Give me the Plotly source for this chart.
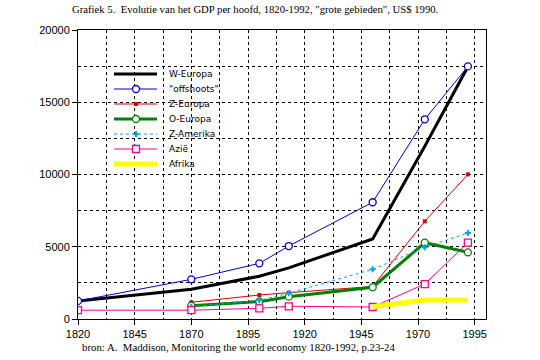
import plotly.graph_objects as go

years = [1820, 1870, 1900, 1913, 1950, 1973, 1992]
w_europa = [1250, 2060, 2960, 3540, 5540, 11950, 17460]
offshoots = [1250, 2745, 3850, 5050, 8080, 13820, 17480]
z_europa_years = [1870, 1900, 1913, 1950, 1973, 1992]
z_europa = [1155, 1660, 1820, 2250, 6760, 10010]
o_europa_years = [1870, 1900, 1913, 1950, 1973, 1992]
o_europa = [920, 1200, 1545, 2200, 5280, 4615]
z_amerika_years = [1870, 1900, 1913, 1950, 1973, 1992]
z_amerika = [850, 1290, 1780, 3440, 4960, 5950]
azie = [610, 610, 740, 880, 830, 2420, 5280]
afrika_years = [1950, 1973, 1992]
afrika = [850, 1315, 1315]

x_ticks = [1820, 1845, 1870, 1895, 1920, 1945, 1970, 1995]
y_ticks = [0, 5000, 10000, 15000, 20000]

# series styles: name, line color, width, dash, marker symbol, marker size, hollow
styles = [
    ("W-Europa", "black", 3, "solid", None, 0, False),
    ('"offshoots"', "#0000cc", 1, "solid", "circle", 7, True),
    ("Z-Europa", "#dd0000", 1, "solid", "square", 4, False),
    ("O-Europa", "#008000", 3, "solid", "circle", 7, True),
    ("Z-Amerika", "#00a0ee", 1, "dot", "cross", 5, False),
    ("Azië", "#ff0088", 1, "solid", "square", 7, True),
    ("Afrika", "#ffff00", 5, "solid", None, 0, False),
]
series = [
    (years, w_europa),
    (years, offshoots),
    (z_europa_years, z_europa),
    (o_europa_years, o_europa),
    (z_amerika_years, z_amerika),
    (years, azie),
    (afrika_years, afrika),
]

def marker_of(color, sym, size, hollow):
    if hollow:
        return dict(symbol=sym, size=size, color="white", line=dict(width=1.3, color=color))
    return dict(symbol=sym, size=size, color=color, line=dict(width=0))

fig = go.Figure()
for (name, color, width, dash, sym, size, hollow), (xs, ys) in zip(styles, series):
    kw = dict(mode="lines")
    if sym:
        kw = dict(mode="lines+markers", marker=marker_of(color, sym, size, hollow))
    fig.add_trace(go.Scatter(x=xs, y=ys, name=name, showlegend=False,
                             line=dict(color=color, width=width, dash=dash), **kw))

# legend drawn on an overlay axis measured in pixels
L, R, T, B = 78, 486, 30, 319
leg_y0, leg_dy = 74, 15
leg_x = [114, 157]
leg_mx = 136
annotations = []
for i, (name, color, width, dash, sym, size, hollow) in enumerate(styles):
    y = leg_y0 + i * leg_dy
    fig.add_trace(go.Scatter(x=leg_x, y=[y, y], xaxis="x2", yaxis="y2", showlegend=False,
                             mode="lines", hoverinfo="skip",
                             line=dict(color=color, width=width, dash=dash)))
    if sym:
        fig.add_trace(go.Scatter(x=[leg_mx], y=[y], xaxis="x2", yaxis="y2", showlegend=False,
                                 mode="markers", hoverinfo="skip",
                                 marker=marker_of(color, sym, size, hollow)))
    annotations.append(dict(text=name, x=167, y=y, xref="x2", yref="y2", xanchor="left",
                            yanchor="middle", showarrow=False,
                            font=dict(family="DejaVu Sans", size=9, color="black")))

axis_common = dict(showline=True, linecolor="black", linewidth=1, mirror=True,
                   showgrid=True, gridcolor="black", griddash="dot", gridwidth=1,
                   ticks="outside", ticklen=5, tickcolor="black", zeroline=False,
                   tickfont=dict(family="Liberation Sans, Arial", size=11, color="black"))

fig.update_layout(
    xaxis=dict(range=[1820, 2000], tickvals=x_ticks, tickformat="d",
               minor=dict(dtick=12.5, tick0=1820, showgrid=True, gridcolor="black",
                          griddash="dot", gridwidth=1, ticks=""),
               **axis_common),
    yaxis=dict(range=[0, 20000], tickvals=y_ticks, tickformat="d",
               minor=dict(dtick=2500, tick0=0, showgrid=True, gridcolor="black",
                          griddash="dot", gridwidth=1, ticks=""),
               **axis_common),
    xaxis2=dict(range=[L, R], overlaying="x", anchor="y2", visible=False, fixedrange=True),
    yaxis2=dict(range=[B, T], overlaying="y", anchor="x2", visible=False, fixedrange=True),
    width=540, height=360,
    margin=dict(l=L, r=540 - R, t=T, b=360 - B),
    paper_bgcolor="white", plot_bgcolor="white",
    showlegend=False,
)

pw, ph = R - L, B - T
def px2paper(x, y):
    return (x - L) / pw, (B - y) / ph

tx, ty = px2paper(255, 9)
cx, cy = px2paper(80, 347)
annotations += [
    dict(text='Grafiek 5.  Evolutie van het GDP per hoofd, 1820-1992, "grote gebieden", US$ 1990.',
         x=tx, y=ty, xref="paper", yref="paper", showarrow=False, yanchor="middle",
         font=dict(family="Liberation Serif, Times New Roman", size=10.7, color="black")),
    dict(text="bron: A.  Maddison, Monitoring the world economy 1820-1992, p.23-24",
         x=cx, y=cy, xref="paper", yref="paper", showarrow=False, xanchor="left", yanchor="middle",
         font=dict(family="Liberation Serif, Times New Roman", size=10.8, color="black")),
]
fig.update_layout(annotations=annotations)

fig.write_html("out.html", config={"displayModeBar": False},
               post_script="document.body.style.margin='0';")
